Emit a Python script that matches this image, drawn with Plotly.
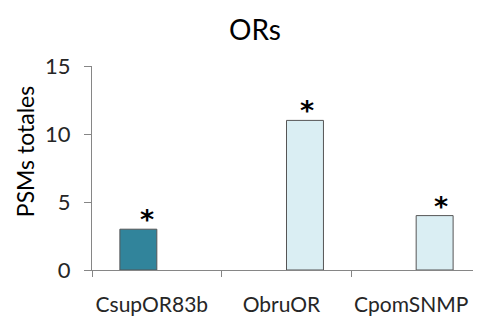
import plotly.graph_objects as go

categories = ["CsupOR83b", "ObruOR", "CpomSNMP"]
series_dark = [3, None, None]
series_light = [None, 11, 4]
y_ticks = [0, 5, 10, 15]
y_title = "PSMs totales"

FONT = "Lato, Calibri, sans-serif"

fig = go.Figure()
fig.add_trace(go.Bar(
    x=categories, y=series_dark,
    marker=dict(color="#31849B", line=dict(color="#555555", width=1)),
))
fig.add_trace(go.Bar(
    x=categories, y=series_light,
    marker=dict(color="#DAEEF3", line=dict(color="#555555", width=1)),
))

# significance asterisks above each bar (pixel nudges per bar as in the original)
star_nudge = [8, 1, 6]
for i, (cat, vd, vl) in enumerate(zip(categories, series_dark, series_light)):
    if vd is not None:
        fig.add_annotation(x=cat, y=vd, text="<b>*</b>", showarrow=False,
                           xshift=-18 + star_nudge[i], yanchor="bottom", yshift=-8,
                           font=dict(size=27, family="DejaVu Sans", color="#000000"))
    if vl is not None:
        fig.add_annotation(x=cat, y=vl, text="<b>*</b>", showarrow=False,
                           xshift=19 + star_nudge[i], yanchor="bottom", yshift=-8,
                           font=dict(size=27, family="DejaVu Sans", color="#000000"))

# y-axis title (placed slightly above centre, as in the original)
fig.add_annotation(xref="paper", yref="paper", x=-0.172, y=0.578,
                   text=y_title, textangle=-90, showarrow=False,
                   xanchor="center", yanchor="middle",
                   font=dict(size=23, family=FONT, color="#000000"))

# page body has an 8px default margin; figure sized to fill the rest of the window
fig.update_layout(
    width=473, height=311,
    margin=dict(l=84, r=0, t=58, b=49, autoexpand=False),
    paper_bgcolor="white", plot_bgcolor="white",
    barmode="group", bargap=0.43, bargroupgap=0,
    showlegend=False,
    font=dict(family=FONT, size=19, color="#262626"),
    title=dict(text="ORs", x=0.522, xanchor="center", y=0.93, yanchor="middle",
               font=dict(size=28, family=FONT, color="#000000")),
    xaxis=dict(
        automargin=False,
        showline=True, linecolor="#868686", linewidth=1,
        ticks="outside", tickson="boundaries", ticklen=6, tickcolor="#868686",
        showgrid=False, tickfont=dict(size=21, family=FONT, color="#262626"),
        ticklabelshift=-5, ticklabelstandoff=16,
    ),
    yaxis=dict(
        automargin=False,
        range=[0, 15], tickvals=y_ticks,
        showline=True, linecolor="#868686", linewidth=1,
        ticks="outside", ticklen=7, tickcolor="#868686",
        showgrid=False, zeroline=False, ticklabelstandoff=9,
        tickfont=dict(size=22, family=FONT, color="#262626"),
    ),
)

fig.write_html("out.html")
